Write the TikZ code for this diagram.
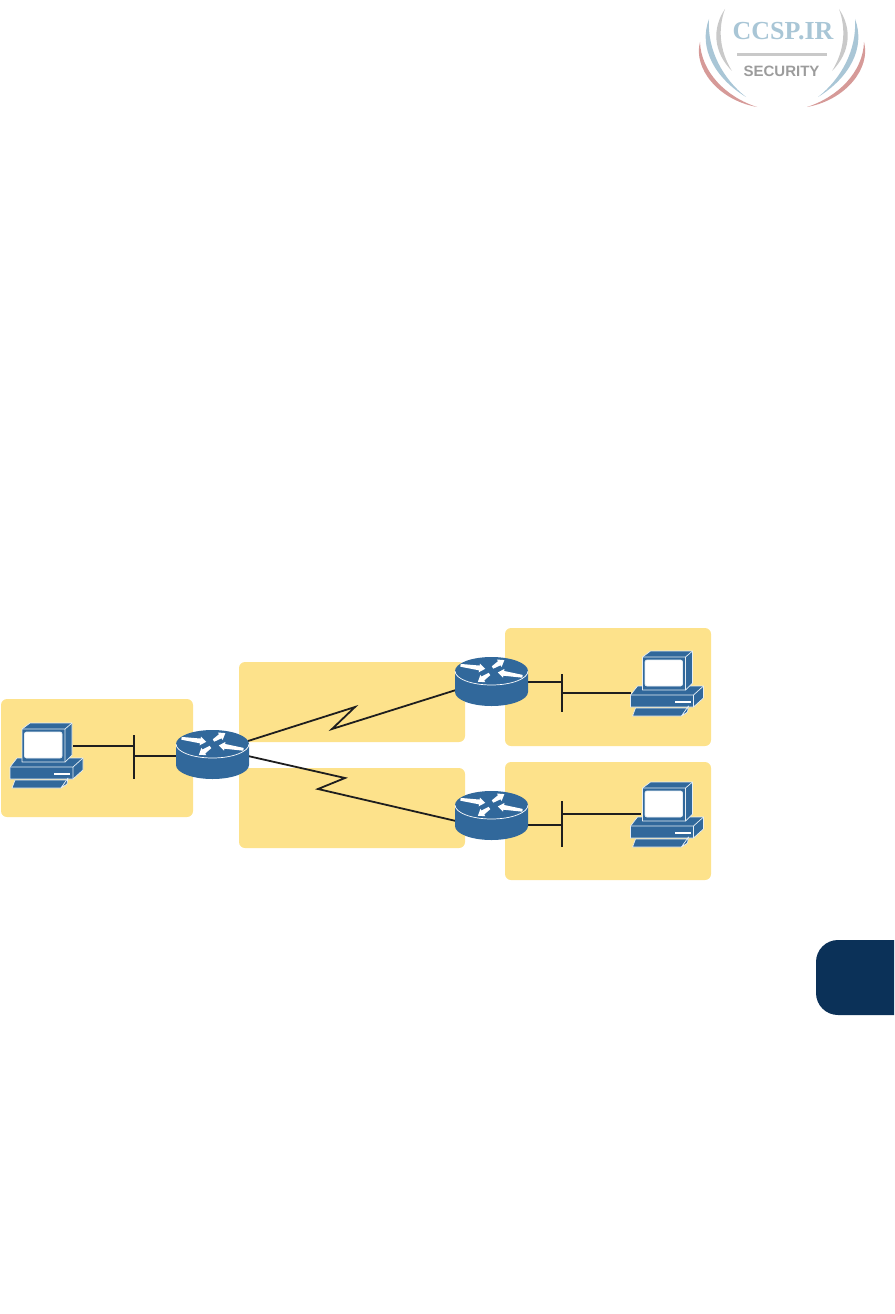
\documentclass[tikz,border=0pt]{standalone}
\usepackage{fontspec}
\setmainfont{Liberation Serif}
\newfontfamily\logosans{Liberation Sans}
\definecolor{areafill}{HTML}{FDE28B}
\definecolor{ciscoblue}{HTML}{31689B}
\definecolor{edgewhite}{HTML}{E6EEF4}
\definecolor{tabblue}{HTML}{0B3158}
\definecolor{wire}{HTML}{1E1E1E}
\definecolor{logoblue}{HTML}{A9C6D6}
\definecolor{logored}{HTML}{D69A98}
\definecolor{logogray}{HTML}{C9C9C9}
\definecolor{logotext}{HTML}{9C9C9C}
\newcommand\rarr[3]{\fill[white,shift={(#1)},rotate=-#2] (0,-1.4)--(#3-6,-2.4)--(#3-6,-4.4)--(#3,0)--(#3-6,4.4)--(#3-6,2.4)--(0,1.4)--cycle;}
\newcommand\swoosh{%
  \fill[logogray] (725,9) .. controls (712,28) and (713,52) .. (732,71) .. controls (719,50) and (718,28) .. cycle;
  \fill[logoblue] (709,19) .. controls (698,48) and (715,78) .. (746,97) .. controls (723,79) and (707,50) .. cycle;
  \fill[logored] (700,42) .. controls (693,68) and (718,100) .. (757,107) .. controls (726,97) and (701,72) .. cycle;
}
\tikzset{
  x=1pt,y=-1pt,
  area/.style={fill=areafill,draw=none,rounded corners=6pt},
  wireline/.style={draw=wire,line width=1.8pt},
  router/.pic={
    \fill[ciscoblue] (-36.5,0) -- (-36.5,21) arc[start angle=180,end angle=0,x radius=36.5,y radius=14] -- (36.5,0) -- cycle;
    \fill[ciscoblue] (0,0) ellipse[x radius=36.5,y radius=14];
    \draw[white,line width=.7pt] (-36.5,0) arc[start angle=180,end angle=0,x radius=36.5,y radius=14];
    \rarr{-31,-5.7}{8}{25}
    \rarr{1,-3.5}{-32}{14}
    \rarr{31,5.3}{189}{25}
    \rarr{-2,3}{146}{14}
  },
  pcunit/.pic={
    \begin{scope}[draw=edgewhite,fill=ciscoblue,line width=.7pt,line join=round]
      \filldraw (10,767)--(17,758)--(83,758)--(83,770)--(73,779)--(10,779)--cycle;
      \draw (10,767)--(73,767)--(83,758) (73,767)--(73,779);
      \fill[white] (54,773) rectangle (70,775);
      \filldraw (15,780)--(67,780)--(61,788)--(12,788)--cycle;
      \filldraw (61,788)--(68,778)--(67,784)--cycle;
      \filldraw (22,729)--(30,723)--(72,723)--(72,755)--(65,762)--(22,762)--cycle;
      \draw (22,729)--(65,729)--(72,723) (65,729)--(65,762);
      \fill[white,draw=edgewhite,rounded corners=2pt] (24.5,732) rectangle (62,758);
    \end{scope}
  }
}
\begin{document}
\begin{tikzpicture}
\useasboundingbox (0,0) rectangle (894,1314);
% logo
\swoosh
\begin{scope}[shift={(1564,0)},xscale=-1]\swoosh\end{scope}
\node[text=logoblue,inner sep=0pt] (logotitle) at (783,31) {\fontsize{26}{30}\selectfont\bfseries CCSP.IR};
\fill[logogray] (737,53.5) rectangle (827,56.5);
\node[text=logotext,inner sep=0pt] (logosub) at (781.5,71) {\logosans\fontsize{15}{17}\selectfont\bfseries SECURITY};
% side tab
\fill[tabblue] (894,940) -- (838,940) arc[start angle=-90,end angle=-180,radius=22] -- (816,993) arc[start angle=180,end angle=90,radius=22] -- (894,1015) -- cycle;
% areas
\node[area,minimum width=192pt,minimum height=118pt,inner sep=0pt] (areaA) at (97,758) {};
\node[area,minimum width=226pt,minimum height=80pt,inner sep=0pt] (areaB) at (352,702) {};
\node[area,minimum width=226pt,minimum height=80pt,inner sep=0pt] (areaC) at (352,808) {};
\node[area,minimum width=206pt,minimum height=118pt,inner sep=0pt] (areaD) at (608,687) {};
\node[area,minimum width=206pt,minimum height=118pt,inner sep=0pt] (areaE) at (608,821) {};
% connection points
\coordinate (pcA) at (73,746); \coordinate (busAt) at (134,735); \coordinate (busAb) at (134,779);
\coordinate (busApc) at (134,746); \coordinate (busAr) at (134,756); \coordinate (rAw) at (177,756);
\coordinate (rAn) at (248,741); \coordinate (rAs) at (248,756);
\coordinate (zbA) at (355,707); \coordinate (zbB) at (332,729); \coordinate (rBw) at (456,690);
\coordinate (zcA) at (345,778); \coordinate (zcB) at (318,789); \coordinate (rCw) at (456,821);
\coordinate (rBe) at (527,682); \coordinate (busDr) at (562,682); \coordinate (busDt) at (562,674); \coordinate (busDb) at (562,712);
\coordinate (busDpc) at (562,693); \coordinate (pcD) at (631,693);
\coordinate (rCe) at (527,825); \coordinate (busEr) at (562,825); \coordinate (busEt) at (562,801); \coordinate (busEb) at (562,847);
\coordinate (busEpc) at (562,814); \coordinate (pcE) at (641,814);
% connectors
\draw[wireline] (pcA) -- (busApc);
\draw[wireline] (busAt) -- (busAb);
\draw[wireline] (busAr) -- (rAw);
\draw[wireline] (rAn) -- (zbA) -- (zbB) -- (rBw);
\draw[wireline] (rAs) -- (zcA) -- (zcB) -- (rCw);
\draw[wireline] (rBe) -- (busDr);
\draw[wireline] (busDt) -- (busDb);
\draw[wireline] (busDpc) -- (pcD);
\draw[wireline] (rCe) -- (busEr);
\draw[wireline] (busEt) -- (busEb);
\draw[wireline] (busEpc) -- (pcE);
% devices
\pic at (212.5,744) {router};
\pic at (491.5,671) {router};
\pic at (491.5,805) {router};
\pic at (0,0) {pcunit};
\pic at (620.5,-72) {pcunit};
\pic at (620.5,59) {pcunit};
\end{tikzpicture}
\end{document}
